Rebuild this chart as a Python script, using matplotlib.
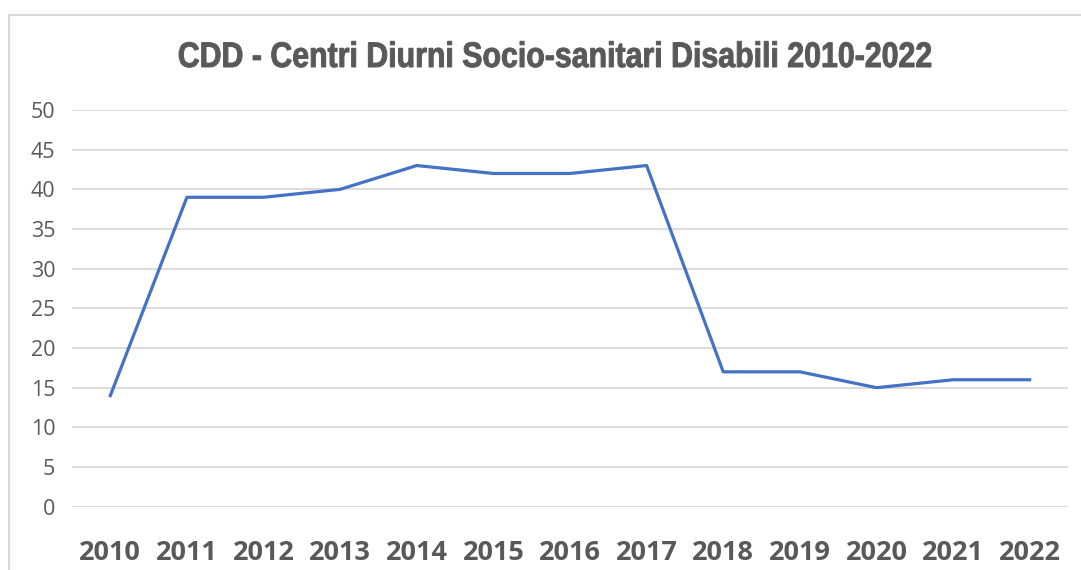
import matplotlib
matplotlib.use("Agg")
import matplotlib.pyplot as plt
from matplotlib.patches import Rectangle, PathPatch
from matplotlib.textpath import TextPath
from matplotlib.font_manager import FontProperties
from matplotlib.transforms import Affine2D, IdentityTransform

years = ["2010", "2011", "2012", "2013", "2014", "2015", "2016",
         "2017", "2018", "2019", "2020", "2021", "2022"]
values = [14, 39, 39, 40, 43, 42, 42, 43, 17, 17, 15, 16, 16]
yticks = [0, 5, 10, 15, 20, 25, 30, 35, 40, 45, 50]
title = "CDD - Centri Diurni Socio-sanitari Disabili 2010-2022"

W, H = 1081, 570
fig = plt.figure(figsize=(W / 100, H / 100), dpi=100)
fig.patch.set_facecolor("white")

# chart frame (cut off on the right and bottom)
fig.patches.append(Rectangle((9 / W, -0.1), 1.2, (H - 15) / H + 0.1,
                             transform=fig.transFigure, fill=False,
                             edgecolor="#D9D9D9", linewidth=1.5))

ax = fig.add_axes([72 / W, (H - 506.7) / H, (1068 - 72) / W, (506.7 - 110) / H])
x = range(len(years))
ax.plot(x, values, color="#4472C4", linewidth=2.3, solid_joinstyle="round")

ax.set_xlim(-0.5, len(years) - 0.5)
ax.set_ylim(0, 50)
ax.set_yticks(yticks)
ax.set_xticks(list(x))
ax.set_xticklabels(years, fontfamily="Open Sans", fontweight="bold",
                   fontsize=19.5, color="#595959")
ax.set_yticklabels([str(v) for v in yticks], fontfamily="Open Sans",
                   fontsize=15.5, color="#595959")
ax.tick_params(axis="both", length=0)
ax.tick_params(axis="y", pad=12)
ax.tick_params(axis="x", pad=24)
ax.grid(axis="y", color="#D9D9D9", linewidth=1.3)
ax.set_axisbelow(True)
for s in ax.spines.values():
    s.set_visible(False)

# narrow bold title: Arial-like bold squeezed horizontally
tp = TextPath((0, 0), title, size=35.5,
              prop=FontProperties(family="Liberation Sans", weight="bold"))
bb = tp.get_extents()
sx = 752 / bb.width
tr = Affine2D().translate(-bb.x0, 0).scale(sx, 1).translate(555 - 752 / 2, H - 67)
fig.patches.append(PathPatch(tr.transform_path(tp), transform=IdentityTransform(),
                             facecolor="#595959", edgecolor="#595959",
                             linewidth=0.7))

fig.savefig("out.png", dpi=100)
